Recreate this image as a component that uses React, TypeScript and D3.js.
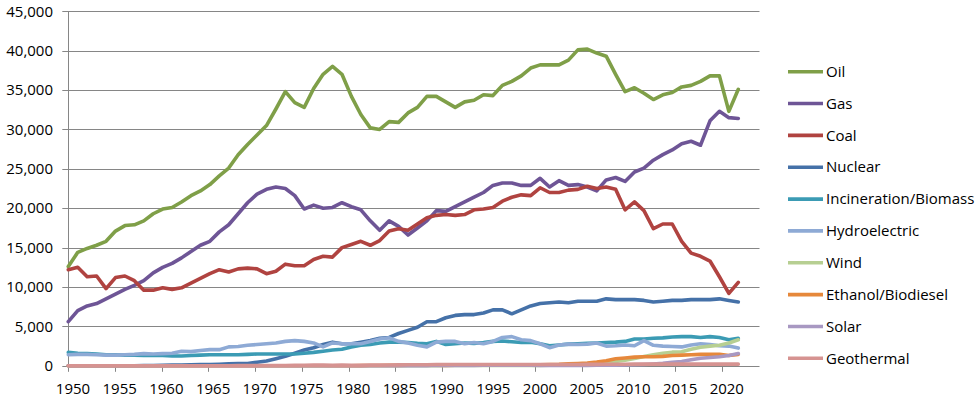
import React from "react";
import * as d3 from "d3";

const years = d3.range(1950, 2022);

const oil = [
  12600, 14400, 14900, 15300, 15800, 17100, 17800, 17900, 18400, 19300,
  19900, 20100, 20800, 21600, 22200, 23000, 24100, 25100, 26800, 28100,
  29300, 30500, 32600, 34800, 33400, 32800, 35200, 37000, 38000, 37000,
  34200, 31900, 30200, 30000, 31000, 30900, 32100, 32800, 34200, 34200,
  33500, 32800, 33500, 33700, 34400, 34300, 35600, 36100, 36800, 37800,
  38200, 38200, 38200, 38800, 40100, 40200, 39700, 39300, 37000, 34800,
  35300, 34600, 33800, 34400, 34700, 35400, 35600, 36100, 36800, 36800,
  32300, 35100,
];
const gas = [
  5600, 7000, 7600, 7900, 8500, 9100, 9700, 10200, 10800, 11800,
  12500, 13000, 13700, 14500, 15300, 15800, 17000, 17900, 19300, 20700,
  21800, 22400, 22700, 22500, 21600, 19900, 20400, 20000, 20100, 20700,
  20200, 19800, 18400, 17200, 18400, 17700, 16600, 17500, 18400, 19700,
  19600, 20200, 20800, 21400, 22000, 22900, 23200, 23200, 22900, 22900,
  23800, 22700, 23500, 22900, 23000, 22700, 22200, 23600, 23900, 23400,
  24600, 25100, 26100, 26800, 27400, 28200, 28500, 28000, 31100, 32300,
  31500, 31400,
];
const coal = [
  12200, 12500, 11300, 11400, 9800, 11200, 11400, 10800, 9600, 9600,
  9900, 9700, 9900, 10500, 11100, 11700, 12200, 11900, 12300, 12400,
  12300, 11700, 12000, 12900, 12700, 12700, 13500, 13900, 13800, 15000,
  15400, 15800, 15300, 15900, 17100, 17400, 17200, 18000, 18800, 19100,
  19200, 19100, 19200, 19800, 19900, 20100, 20900, 21400, 21700, 21600,
  22600, 22000, 22000, 22300, 22400, 22800, 22500, 22700, 22400, 19800,
  20800, 19700, 17400, 18000, 18000, 15800, 14300, 13900, 13300, 11300,
  9200, 10600,
];
const nuclear = [
  0, 0, 0, 0, 0, 0, 0, 10, 20, 30,
  50, 80, 100, 130, 150, 150, 200, 250, 300, 300,
  450, 600, 900, 1200, 1600, 2000, 2300, 2700, 3000, 2800,
  2800, 3000, 3200, 3500, 3600, 4100, 4500, 4900, 5600, 5600,
  6100, 6400, 6500, 6500, 6700, 7100, 7100, 6600, 7100, 7600,
  7900, 8000, 8100, 8000, 8200, 8200, 8200, 8500, 8400, 8400,
  8400, 8300, 8100, 8200, 8300, 8300, 8400, 8400, 8400, 8500,
  8300, 8100,
];
const biomass = [
  1700, 1600, 1550, 1500, 1400, 1400, 1350, 1350, 1300, 1300,
  1300, 1250, 1250, 1300, 1350, 1400, 1400, 1400, 1400, 1450,
  1500, 1500, 1500, 1500, 1500, 1600, 1700, 1850, 2000, 2100,
  2400, 2600, 2700, 2900, 3000, 3000, 2950, 2850, 2800, 3100,
  2700, 2800, 2900, 2850, 2950, 3100, 3150, 3050, 2950, 3000,
  2800, 2550, 2650, 2750, 2800, 2850, 2900, 2950, 3000, 3100,
  3400, 3400, 3500, 3550, 3650, 3700, 3700, 3600, 3700, 3600,
  3300, 3500,
];
const hydro = [
  1400, 1450, 1450, 1400, 1350, 1350, 1400, 1450, 1550, 1500,
  1550, 1600, 1850, 1800, 1950, 2050, 2050, 2400, 2450, 2600,
  2700, 2800, 2900, 3100, 3200, 3100, 2900, 2400, 2900, 2800,
  2800, 2800, 3100, 3400, 3550, 3100, 2900, 2600, 2400, 3000,
  3100, 3100, 2800, 2950, 2800, 3100, 3600, 3700, 3300, 3200,
  2800, 2300, 2650, 2750, 2700, 2750, 2900, 2500, 2550, 2650,
  2550, 3200, 2600, 2500, 2450, 2400, 2650, 2800, 2700, 2550,
  2500, 2250,
];
const wind = [
  0, 0, 0, 0, 0, 0, 0, 0, 0, 0,
  0, 0, 0, 0, 0, 0, 0, 0, 0, 0,
  0, 0, 0, 0, 0, 0, 0, 0, 0, 0,
  0, 0, 0, 0, 0, 0, 0, 0, 0, 20,
  30, 30, 30, 30, 40, 30, 30, 30, 30, 50,
  60, 70, 100, 110, 140, 180, 260, 340, 550, 720,
  920, 1170, 1400, 1600, 1730, 1780, 2100, 2350, 2500, 2600,
  2900, 3300,
];
const ethanol = [
  0, 0, 0, 0, 0, 0, 0, 0, 0, 0,
  0, 0, 0, 0, 0, 0, 0, 0, 0, 0,
  0, 0, 0, 0, 0, 0, 0, 0, 0, 0,
  10, 20, 30, 40, 50, 60, 70, 70, 70, 70,
  60, 70, 80, 90, 100, 110, 90, 100, 110, 110,
  140, 150, 180, 240, 300, 350, 480, 650, 900, 1000,
  1100, 1150, 1150, 1200, 1300, 1350, 1400, 1450, 1450, 1450,
  1300, 1450,
];
const solar = [
  0, 0, 0, 0, 0, 0, 0, 0, 0, 0,
  0, 0, 0, 0, 0, 0, 0, 0, 0, 0,
  0, 0, 0, 0, 0, 0, 0, 0, 0, 0,
  0, 0, 0, 0, 0, 0, 0, 0, 0, 60,
  60, 60, 60, 60, 70, 70, 70, 70, 70, 70,
  60, 60, 60, 60, 60, 60, 70, 80, 90, 100,
  130, 170, 230, 310, 430, 550, 770, 950, 1050, 1150,
  1300, 1550,
];
const geothermal = [
  0, 0, 0, 0, 0, 0, 0, 0, 0, 0,
  0, 10, 10, 10, 10, 10, 10, 10, 20, 20,
  20, 30, 30, 40, 50, 70, 80, 80, 60, 80,
  50, 60, 80, 90, 100, 120, 130, 130, 140, 160,
  170, 170, 170, 170, 170, 160, 170, 170, 170, 170,
  160, 160, 170, 170, 170, 180, 180, 190, 190, 200,
  210, 210, 210, 210, 210, 210, 210, 210, 210, 210,
  210, 210,
];

const seriesNames = [
  "Oil", "Gas", "Coal", "Nuclear", "Incineration/Biomass",
  "Hydroelectric", "Wind", "Ethanol/Biodiesel", "Solar", "Geothermal",
];
const seriesValues = [oil, gas, coal, nuclear, biomass, hydro, wind, ethanol, solar, geothermal];
const colors = [
  "#7f9f48", "#6e5596", "#b04340", "#4571a8", "#3b9bb4",
  "#8eaad5", "#b7cf92", "#e6883b", "#a898c2", "#d69391",
];

const yTicks = [0, 5000, 10000, 15000, 20000, 25000, 30000, 35000, 40000, 45000];
const xTickYears = [1950, 1955, 1960, 1965, 1970, 1975, 1980, 1985, 1990, 1995, 2000, 2005, 2010, 2015, 2020];

const font = "'Open Sans', sans-serif";

export default function App() {
  const width = 977;
  const height = 397;
  const plot = { left: 68.3, right: 759.5, top: 11.3, bottom: 365.8 };

  // line points
  const x = d3.scaleLinear().domain([1950, 2021]).range([plot.left, 738.3]);
  // axis categories (ticks between years, labels centred)
  const xAxis = d3.scaleLinear().domain([1950, 2024]).range([plot.left, plot.right]);
  const y = d3.scaleLinear().domain([0, 45000]).range([plot.bottom, plot.top]);

  const line = d3
    .line<number>()
    .x((_, i) => x(years[i]))
    .y((d) => y(d));

  const legendY = d3.scaleLinear().domain([0, 9]).range([71.7, 358.3]);

  return (
    <svg
      width={width}
      height={height}
      style={{ position: "absolute", left: 0, top: 0, background: "#fff" }}
      fontFamily={font}
    >
      {yTicks.map((t) => (
        <g key={t}>
          <line
            x1={plot.left - 6}
            x2={t === 0 ? plot.left : plot.right}
            y1={Math.round(y(t)) + 0.5}
            y2={Math.round(y(t)) + 0.5}
            stroke="#868686"
            strokeWidth={1}
          />
          <text x={53} y={y(t)} dy="0.35em" textAnchor="end" fontSize={15} fill="#000">
            {d3.format(",")(t)}
          </text>
        </g>
      ))}
      <line x1={68.5} x2={68.5} y1={Math.round(plot.top) + 0.5} y2={Math.round(plot.bottom) + 0.5} stroke="#868686" />
      <line x1={plot.left} x2={plot.right} y1={Math.round(plot.bottom) + 0.5} y2={Math.round(plot.bottom) + 0.5} stroke="#868686" />
      {xTickYears.map((yr) => (
        <g key={yr}>
          <line
            x1={Math.round(xAxis(yr)) + 0.5}
            x2={Math.round(xAxis(yr)) + 0.5}
            y1={plot.bottom}
            y2={plot.bottom + 6}
            stroke="#868686"
          />
          <text x={xAxis(yr + 0.5)} y={394} textAnchor="middle" fontSize={15} fill="#000">
            {yr}
          </text>
        </g>
      ))}
      {seriesValues.map((vals, i) => (
        <path
          key={seriesNames[i]}
          d={line(vals) ?? ""}
          fill="none"
          stroke={colors[i]}
          strokeWidth={3.6}
          strokeLinejoin="round"
          strokeLinecap="round"
        />
      ))}
      {seriesNames.map((name, i) => (
        <g key={name} transform={`translate(0,${legendY(i)})`}>
          <line x1={788} x2={823} y1={0} y2={0} stroke={colors[i]} strokeWidth={3.6} />
          <text x={826} y={0} dy="0.35em" fontSize={15} fill="#000">
            {name}
          </text>
        </g>
      ))}
    </svg>
  );
}
